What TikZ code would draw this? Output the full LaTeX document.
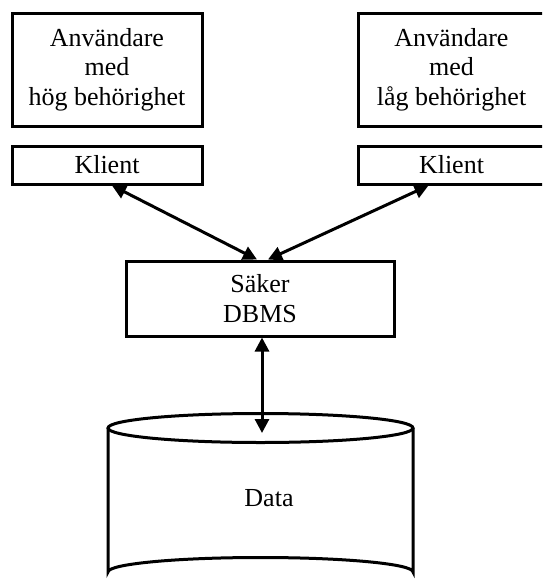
\documentclass[tikz,border=0pt]{standalone}
\usepackage{fontspec}
\setmainfont{Liberation Serif}
\usetikzlibrary{arrows.meta}
\begin{document}
\begin{tikzpicture}[x=1pt,y=-1pt,
  box/.style={draw,line width=3pt,rectangle,align=center,inner sep=0pt,
    font=\fontsize{26}{29.5}\selectfont},
  link/.style={line width=3pt,{Triangle[length=14pt,width=14pt]}-{Triangle[length=14pt,width=14pt]}}]
\useasboundingbox (0,0) rectangle (542,579);
\clip (0,0) rectangle (542,579);

% users and their clients
\node[box,minimum width=190,minimum height=113] (uhigh) at (107,69.5)
  {Användare\\med\\hög behörighet};
\node[box,minimum width=190,minimum height=38] (khigh) at (107,165) {Klient};
\node[box,minimum width=187,minimum height=113] (ulow) at (451.5,69.5)
  {Användare\\med\\låg behörighet};
\node[box,minimum width=187,minimum height=38] (klow) at (451.5,165) {Klient};

% database management system
\node[box,minimum width=268,minimum height=75] (dbms) at (260,298.5) {Säker\\DBMS};

% data store (cylinder)
\draw[line width=3pt] (260.5,428) ellipse [x radius=152.5, y radius=14.5];
\draw[line width=3pt] (108,428) -- (108,572)
  arc[start angle=180, end angle=360, x radius=152.5, y radius=14.5] -- (413,428);
\node[font=\fontsize{26}{29.5}\selectfont] (data) at (269,498) {Data};
\coordinate (dbin) at (262,433);

% connections
\draw[link] ([xshift=5pt]khigh.south) -- ([xshift=-3pt]dbms.north);
\draw[link] ([xshift=-23pt]klow.south) -- ([xshift=8pt]dbms.north);
\draw[link] ([xshift=2pt]dbms.south) -- (dbin);
\end{tikzpicture}
\end{document}
